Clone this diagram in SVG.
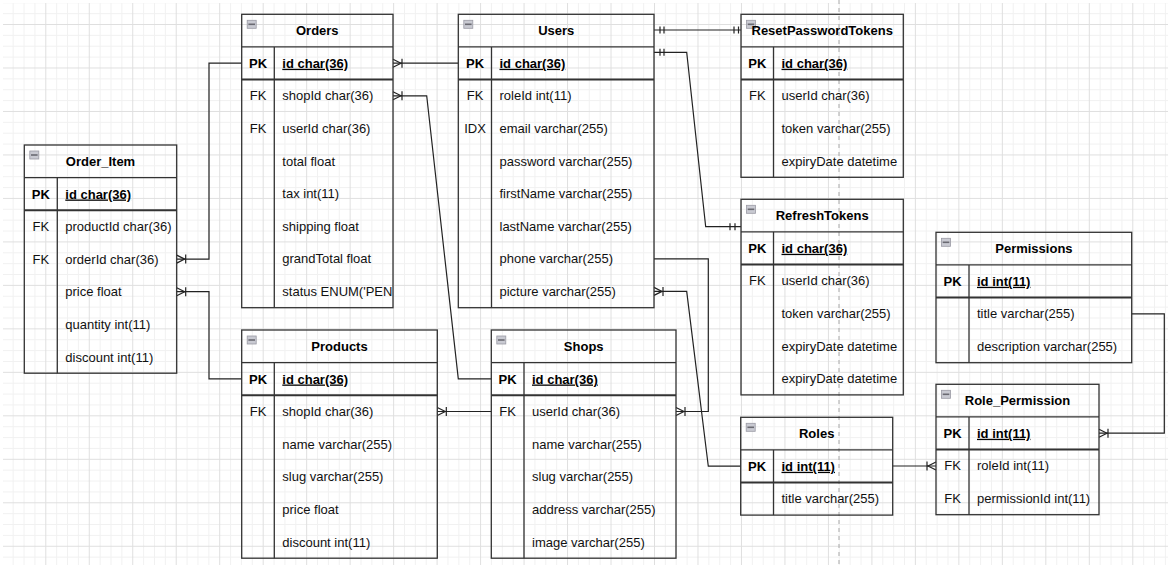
<svg xmlns="http://www.w3.org/2000/svg" width="1171" height="568" viewBox="0 0 1171 568">
<style>
.tb{fill:none;stroke:#333;stroke-width:1.3}
.ln{stroke:#333;stroke-width:1.3;fill:none}
.pkl{stroke:#333;stroke-width:2;fill:none}
.hd{font-family:"Liberation Sans",Arial,sans-serif;font-size:13px;font-weight:bold;text-anchor:middle;fill:#000}
.k{font-family:"Liberation Sans",Arial,sans-serif;font-size:13px;text-anchor:middle;fill:#111}
.kb{font-family:"Liberation Sans",Arial,sans-serif;font-size:13px;font-weight:bold;text-anchor:middle;fill:#000}
.f{font-family:"Liberation Sans",Arial,sans-serif;font-size:13px;fill:#111}
.pk{font-family:"Liberation Sans",Arial,sans-serif;font-size:13px;font-weight:bold;fill:#000;text-decoration:underline}
.ic{fill:#c9cad2;stroke:#9a9aa4;stroke-width:0.8}
.icl{stroke:#6a6a72;stroke-width:1.6}
.cn{fill:none;stroke:#222;stroke-width:1.2}
.bar{fill:none;stroke:#222;stroke-width:1.2}
</style>
<defs>
<pattern id="grid" width="43.48" height="43.48" patternUnits="userSpaceOnUse" x="-24.875" y="-2.675">
<rect x="4.935" y="0" width="1" height="43.48" fill="#f1f1f1"/>
<rect x="15.805" y="0" width="1" height="43.48" fill="#f1f1f1"/>
<rect x="37.545" y="0" width="1" height="43.48" fill="#f1f1f1"/>
<rect x="0" y="4.935" width="43.48" height="1" fill="#f1f1f1"/>
<rect x="0" y="15.805" width="43.48" height="1" fill="#f1f1f1"/>
<rect x="0" y="37.545" width="43.48" height="1" fill="#f1f1f1"/>
<rect x="26.675" y="0" width="1" height="43.48" fill="#dfdfdf"/>
<rect x="0" y="26.675" width="43.48" height="1" fill="#dfdfdf"/>
</pattern>
<marker id="many" markerUnits="userSpaceOnUse" markerWidth="24" markerHeight="16" viewBox="-12 -8 24 16" refX="0" refY="0" orient="auto" overflow="visible">
<path d="M0,-4 L-8,0 L0,4 M-9,-4.5 V4.5" fill="none" stroke="#222" stroke-width="1.2"/>
</marker>
</defs>
<rect x="0" y="0" width="1171" height="568" fill="#fff"/>
<rect x="3" y="3" width="1165" height="562" fill="url(#grid)"/>
<line x1="839" y1="0" x2="839" y2="568" stroke="#a8a8a8" stroke-width="1" stroke-dasharray="4 4"/>

<g id="connectors">
<path class="cn" d="M458.3,63.2 H393" marker-end="url(#many)"/>
<path class="cn" d="M241.7,63.2 H209 V259.1 H176.7" marker-end="url(#many)"/>
<path class="cn" d="M241.7,378.9 H209 V291.7 H176.7" marker-end="url(#many)"/>
<path class="cn" d="M491.3,378.9 H458.3 L426.7,95.8 H393" marker-end="url(#many)"/>
<path class="cn" d="M654,30 H741"/>
<path class="bar" d="M660,26.5 V33.5 M664,26.5 V33.5 M734,26.5 V33.5 M738.5,26.5 V33.5"/>
<path class="cn" d="M654,52.3 H686.7 L705.7,226.7 H741"/>
<path class="bar" d="M660,48.8 V55.8 M664,48.8 V55.8 M730,223.2 V230.2 M735,223.2 V230.2"/>
<path class="cn" d="M654,258.8 H708.3 V411.5 H676" marker-end="url(#many)"/>
<path class="cn" d="M740.7,466.2 H708.3 L686.7,291.4 H654" marker-end="url(#many)"/>
<path class="cn" d="M892.7,466 H936" marker-end="url(#many)"/>
<path class="cn" d="M1131.7,313.8 H1164.3 V433.2 H1099" marker-end="url(#many)"/>
<path class="cn" d="M491.3,411.5 H437.3" marker-end="url(#many)"/>
</g>

<g id="Order_Item">
<rect class="tb" x="24.3" y="145" width="152.4" height="228.2"/>
<rect class="ic" x="29.8" y="151" width="9" height="8"/><line class="icl" x1="31" y1="155" x2="37.6" y2="155"/>
<text class="hd" x="100.5" y="165.8">Order_Item</text>
<line class="ln" x1="24.3" y1="177.6" x2="176.7" y2="177.6"/>
<line class="pkl" x1="24.3" y1="210.2" x2="176.7" y2="210.2"/>
<line class="ln" x1="57.3" y1="177.6" x2="57.3" y2="373.2"/>
<text class="kb" x="40.8" y="198.5">PK</text><text class="pk" x="65.3" y="198.5">id char(36)</text>
<text class="k" x="40.8" y="231.1">FK</text><text class="f" x="65.3" y="231.1">productId char(36)</text>
<text class="k" x="40.8" y="263.7">FK</text><text class="f" x="65.3" y="263.7">orderId char(36)</text>
<text class="f" x="65.3" y="296.3">price float</text>
<text class="f" x="65.3" y="328.9">quantity int(11)</text>
<text class="f" x="65.3" y="361.5">discount int(11)</text>
</g>

<g id="Orders">
<rect class="tb" x="241.7" y="14.3" width="151.3" height="293.4"/>
<rect class="ic" x="247.2" y="20.3" width="9" height="8"/><line class="icl" x1="248.4" y1="24.3" x2="255" y2="24.3"/>
<text class="hd" x="317.3" y="35.1">Orders</text>
<line class="ln" x1="241.7" y1="46.9" x2="393" y2="46.9"/>
<line class="pkl" x1="241.7" y1="79.5" x2="393" y2="79.5"/>
<line class="ln" x1="274.3" y1="46.9" x2="274.3" y2="307.7"/>
<text class="kb" x="258" y="67.8">PK</text><text class="pk" x="282.3" y="67.8">id char(36)</text>
<text class="k" x="258" y="100.4">FK</text><text class="f" x="282.3" y="100.4">shopId char(36)</text>
<text class="k" x="258" y="133">FK</text><text class="f" x="282.3" y="133">userId char(36)</text>
<text class="f" x="282.3" y="165.6">total float</text>
<text class="f" x="282.3" y="198.2">tax int(11)</text>
<text class="f" x="282.3" y="230.8">shipping float</text>
<text class="f" x="282.3" y="263.4">grandTotal float</text>
<text class="f" x="282.3" y="296">status ENUM('PEN</text>
</g>

<g id="Users">
<rect class="tb" x="458.3" y="14.3" width="195.7" height="293.4"/>
<rect class="ic" x="463.8" y="20.3" width="9" height="8"/><line class="icl" x1="465" y1="24.3" x2="471.6" y2="24.3"/>
<text class="hd" x="556.2" y="35.1">Users</text>
<line class="ln" x1="458.3" y1="46.9" x2="654" y2="46.9"/>
<line class="pkl" x1="458.3" y1="79.5" x2="654" y2="79.5"/>
<line class="ln" x1="491.5" y1="46.9" x2="491.5" y2="307.7"/>
<text class="kb" x="475" y="67.8">PK</text><text class="pk" x="499.5" y="67.8">id char(36)</text>
<text class="k" x="475" y="100.4">FK</text><text class="f" x="499.5" y="100.4">roleId int(11)</text>
<text class="k" x="475" y="133">IDX</text><text class="f" x="499.5" y="133">email varchar(255)</text>
<text class="f" x="499.5" y="165.6">password varchar(255)</text>
<text class="f" x="499.5" y="198.2">firstName varchar(255)</text>
<text class="f" x="499.5" y="230.8">lastName varchar(255)</text>
<text class="f" x="499.5" y="263.4">phone varchar(255)</text>
<text class="f" x="499.5" y="296">picture varchar(255)</text>
</g>

<g id="ResetPasswordTokens">
<rect class="tb" x="741" y="14.3" width="162.3" height="163"/>
<rect class="ic" x="746.5" y="20.3" width="9" height="8"/><line class="icl" x1="747.7" y1="24.3" x2="754.3" y2="24.3"/>
<text class="hd" x="822.2" y="35.1">ResetPasswordTokens</text>
<line class="ln" x1="741" y1="46.9" x2="903.3" y2="46.9"/>
<line class="pkl" x1="741" y1="79.5" x2="903.3" y2="79.5"/>
<line class="ln" x1="773.5" y1="46.9" x2="773.5" y2="177.3"/>
<text class="kb" x="757.3" y="67.8">PK</text><text class="pk" x="781.5" y="67.8">id char(36)</text>
<text class="k" x="757.3" y="100.4">FK</text><text class="f" x="781.5" y="100.4">userId char(36)</text>
<text class="f" x="781.5" y="133">token varchar(255)</text>
<text class="f" x="781.5" y="165.6">expiryDate datetime</text>
</g>

<g id="RefreshTokens">
<rect class="tb" x="741" y="199.3" width="162.3" height="195.6"/>
<rect class="ic" x="746.5" y="205.3" width="9" height="8"/><line class="icl" x1="747.7" y1="209.3" x2="754.3" y2="209.3"/>
<text class="hd" x="822.2" y="220.1">RefreshTokens</text>
<line class="ln" x1="741" y1="231.9" x2="903.3" y2="231.9"/>
<line class="pkl" x1="741" y1="264.5" x2="903.3" y2="264.5"/>
<line class="ln" x1="773.5" y1="231.9" x2="773.5" y2="394.9"/>
<text class="kb" x="757.3" y="252.8">PK</text><text class="pk" x="781.5" y="252.8">id char(36)</text>
<text class="k" x="757.3" y="285.4">FK</text><text class="f" x="781.5" y="285.4">userId char(36)</text>
<text class="f" x="781.5" y="318">token varchar(255)</text>
<text class="f" x="781.5" y="350.6">expiryDate datetime</text>
<text class="f" x="781.5" y="383.2">expiryDate datetime</text>
</g>

<g id="Permissions">
<rect class="tb" x="936" y="232.3" width="195.7" height="130.4"/>
<rect class="ic" x="941.5" y="238.3" width="9" height="8"/><line class="icl" x1="942.7" y1="242.3" x2="949.3" y2="242.3"/>
<text class="hd" x="1033.9" y="253.1">Permissions</text>
<line class="ln" x1="936" y1="264.9" x2="1131.7" y2="264.9"/>
<line class="pkl" x1="936" y1="297.5" x2="1131.7" y2="297.5"/>
<line class="ln" x1="969" y1="264.9" x2="969" y2="362.7"/>
<text class="kb" x="952.5" y="285.8">PK</text><text class="pk" x="977" y="285.8">id int(11)</text>
<text class="f" x="977" y="318.4">title varchar(255)</text>
<text class="f" x="977" y="351">description varchar(255)</text>
</g>

<g id="Role_Permission">
<rect class="tb" x="936" y="384.3" width="163" height="130.4"/>
<rect class="ic" x="941.5" y="390.3" width="9" height="8"/><line class="icl" x1="942.7" y1="394.3" x2="949.3" y2="394.3"/>
<text class="hd" x="1017.5" y="405.1">Role_Permission</text>
<line class="ln" x1="936" y1="416.9" x2="1099" y2="416.9"/>
<line class="pkl" x1="936" y1="449.5" x2="1099" y2="449.5"/>
<line class="ln" x1="969" y1="416.9" x2="969" y2="514.7"/>
<text class="kb" x="952.5" y="437.8">PK</text><text class="pk" x="977" y="437.8">id int(11)</text>
<text class="k" x="952.5" y="470.4">FK</text><text class="f" x="977" y="470.4">roleId int(11)</text>
<text class="k" x="952.5" y="503">FK</text><text class="f" x="977" y="503">permissionId int(11)</text>
</g>

<g id="Roles">
<rect class="tb" x="740.7" y="417.3" width="152" height="97.8"/>
<rect class="ic" x="746.2" y="423.3" width="9" height="8"/><line class="icl" x1="747.4" y1="427.3" x2="754" y2="427.3"/>
<text class="hd" x="816.7" y="438.1">Roles</text>
<line class="ln" x1="740.7" y1="449.9" x2="892.7" y2="449.9"/>
<line class="pkl" x1="740.7" y1="482.5" x2="892.7" y2="482.5"/>
<line class="ln" x1="773.5" y1="449.9" x2="773.5" y2="515.1"/>
<text class="kb" x="757.1" y="470.8">PK</text><text class="pk" x="781.5" y="470.8">id int(11)</text>
<text class="f" x="781.5" y="503.4">title varchar(255)</text>
</g>

<g id="Products">
<rect class="tb" x="241.7" y="330" width="195.6" height="228.2"/>
<rect class="ic" x="247.2" y="336" width="9" height="8"/><line class="icl" x1="248.4" y1="340" x2="255" y2="340"/>
<text class="hd" x="339.5" y="350.8">Products</text>
<line class="ln" x1="241.7" y1="362.6" x2="437.3" y2="362.6"/>
<line class="pkl" x1="241.7" y1="395.2" x2="437.3" y2="395.2"/>
<line class="ln" x1="274.3" y1="362.6" x2="274.3" y2="558.2"/>
<text class="kb" x="258" y="383.5">PK</text><text class="pk" x="282.3" y="383.5">id char(36)</text>
<text class="k" x="258" y="416.1">FK</text><text class="f" x="282.3" y="416.1">shopId char(36)</text>
<text class="f" x="282.3" y="448.7">name varchar(255)</text>
<text class="f" x="282.3" y="481.3">slug varchar(255)</text>
<text class="f" x="282.3" y="513.9">price float</text>
<text class="f" x="282.3" y="546.5">discount int(11)</text>
</g>

<g id="Shops">
<rect class="tb" x="491.3" y="330" width="184.7" height="228.2"/>
<rect class="ic" x="496.8" y="336" width="9" height="8"/><line class="icl" x1="498" y1="340" x2="504.6" y2="340"/>
<text class="hd" x="583.7" y="350.8">Shops</text>
<line class="ln" x1="491.3" y1="362.6" x2="676" y2="362.6"/>
<line class="pkl" x1="491.3" y1="395.2" x2="676" y2="395.2"/>
<line class="ln" x1="524" y1="362.6" x2="524" y2="558.2"/>
<text class="kb" x="507.6" y="383.5">PK</text><text class="pk" x="532" y="383.5">id char(36)</text>
<text class="k" x="507.6" y="416.1">FK</text><text class="f" x="532" y="416.1">userId char(36)</text>
<text class="f" x="532" y="448.7">name varchar(255)</text>
<text class="f" x="532" y="481.3">slug varchar(255)</text>
<text class="f" x="532" y="513.9">address varchar(255)</text>
<text class="f" x="532" y="546.5">image varchar(255)</text>
</g>
</svg>
